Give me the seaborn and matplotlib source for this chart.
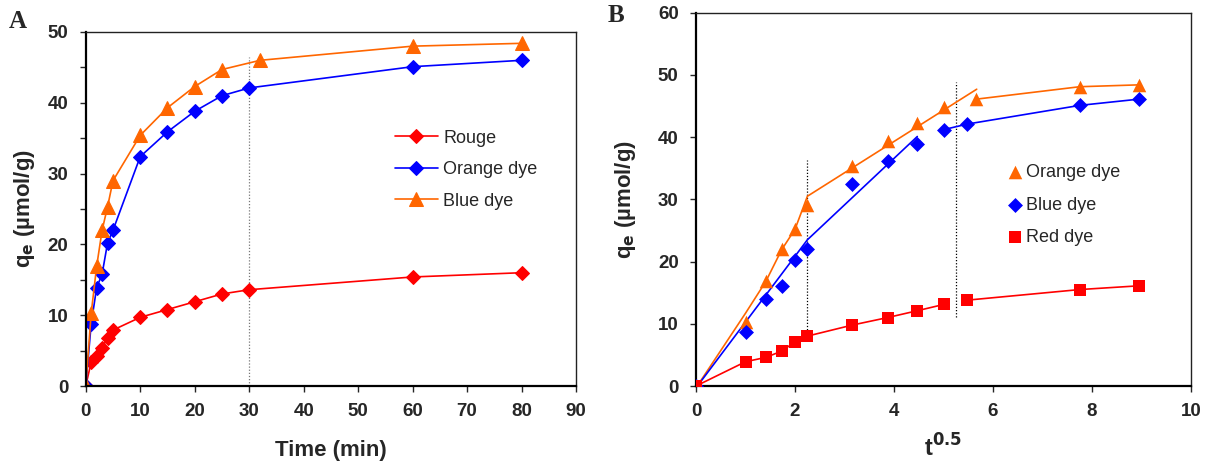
import matplotlib
matplotlib.use("Agg")
import matplotlib.pyplot as plt
import seaborn as sns
import numpy as np
import pandas as pd
from matplotlib.ticker import MultipleLocator

# ---------------- data ----------------
time_min = [0, 1, 2, 3, 4, 5, 10, 15, 20, 25, 30, 60, 80]
time_blue = [0, 1, 2, 3, 4, 5, 10, 15, 20, 25, 32, 60, 80]
rouge = [0, 3.4, 4.2, 5.4, 6.8, 7.9, 9.7, 10.8, 11.9, 13.0, 13.6, 15.4, 16.0]
orange_dye = [0, 8.8, 13.9, 15.8, 20.2, 22.0, 32.4, 35.9, 38.8, 41.0, 42.1, 45.1, 46.0]
blue_dye = [0, 10.3, 16.9, 22.0, 25.3, 29.0, 35.4, 39.3, 42.3, 44.7, 46.0, 48.0, 48.4]

sqrt_t = [0, 1.0, 1.41, 1.73, 2.0, 2.24, 3.16, 3.87, 4.47, 5.0, 5.48, 7.75, 8.94]
sqrt_t_orange = [0, 1.0, 1.41, 1.73, 2.0, 2.24, 3.16, 3.87, 4.47, 5.0, 5.66, 7.75, 8.94]
orange_b = [0, 10.3, 16.9, 22.0, 25.3, 29.1, 35.3, 39.3, 42.2, 44.8, 46.1, 48.1, 48.4]
blue_b = [0, 8.7, 14.0, 16.0, 20.2, 22.0, 32.4, 36.1, 38.9, 41.2, 42.1, 45.1, 46.1]
red_b = [0, 3.9, 4.6, 5.6, 7.1, 8.0, 9.8, 11.0, 12.1, 13.1, 13.8, 15.5, 16.1]

# fitted line segments drawn in panel B
orange_fit1_x = [0, 1.0, 1.41, 1.73, 2.0, 2.25, 5.67]
orange_fit1_y = [-0.3, 11.7, 16.8, 21.9, 25.2, 30.5, 47.7]
blue_fit1_x = [0, 2.25, 4.47]
blue_fit1_y = [-0.3, 23.5, 40.1]

# dotted guide lines
vline_a = (30, 0, 46.5)
vlines_b = [(2.25, 8.0, 36.3), (5.25, 11.1, 48.8)]

RED = "#FF0000"
BLUE = "#0000FF"
ORANGE = "#FF6600"

sns.set_style("white")
plt.rcParams["font.family"] = ["Liberation Sans", "DejaVu Sans"]

fig = plt.figure(figsize=(12.13, 4.63), dpi=100)
axA = fig.add_axes([0.0707, 0.1663, 0.4042, 0.7646])
axB = fig.add_axes([0.5738, 0.1663, 0.4081, 0.8063])

lw = 1.2

# ---------------- panel A ----------------
sns.lineplot(x=time_min, y=rouge, ax=axA, color=RED, marker="D", markersize=7.5,
             markeredgecolor=RED, linewidth=lw, label="Rouge", sort=False, estimator=None)
sns.lineplot(x=time_min, y=orange_dye, ax=axA, color=BLUE, marker="D", markersize=7.5,
             markeredgecolor=BLUE, linewidth=lw, label="Orange dye", sort=False, estimator=None)
sns.lineplot(x=time_blue, y=blue_dye, ax=axA, color=ORANGE, marker="^", markersize=9.5,
             markeredgecolor=ORANGE, linewidth=lw, label="Blue dye", sort=False, estimator=None)
axA.vlines(vline_a[0], vline_a[1], vline_a[2], colors="#777777", linestyles=(0, (1, 1.5)),
           linewidth=0.9, zorder=1)

axA.set_xlim(0, 90)
axA.set_ylim(0, 50)
axA.xaxis.set_major_locator(MultipleLocator(10))
axA.yaxis.set_major_locator(MultipleLocator(10))
axA.yaxis.set_minor_locator(MultipleLocator(5))
axA.set_xlabel("Time (min)", fontsize=16, fontweight="bold", labelpad=14)
axA.set_ylabel(r"q$_{\mathbf{e}}$ (µmol/g)", fontsize=16, fontweight="bold", labelpad=8)
axA.legend(loc="upper left", bbox_to_anchor=(0.597, 0.77), frameon=False, fontsize=13,
           handlelength=2.4, handletextpad=0.3, labelspacing=0.8)

# ---------------- panel B ----------------
sns.lineplot(x=orange_fit1_x, y=orange_fit1_y, ax=axB, color=ORANGE, linewidth=lw,
             sort=False, estimator=None, legend=False)
sns.lineplot(x=sqrt_t_orange[10:], y=orange_b[10:], ax=axB, color=ORANGE, linewidth=lw,
             sort=False, estimator=None, legend=False)
sns.lineplot(x=blue_fit1_x, y=blue_fit1_y, ax=axB, color=BLUE, linewidth=lw,
             sort=False, estimator=None, legend=False)
sns.lineplot(x=sqrt_t[9:], y=blue_b[9:], ax=axB, color=BLUE, linewidth=lw,
             sort=False, estimator=None, legend=False)
sns.lineplot(x=sqrt_t[:10], y=red_b[:10], ax=axB, color=RED, linewidth=lw,
             sort=False, estimator=None, legend=False)
sns.lineplot(x=sqrt_t[10:], y=red_b[10:], ax=axB, color=RED, linewidth=lw,
             sort=False, estimator=None, legend=False)

sns.scatterplot(x=sqrt_t_orange, y=orange_b, ax=axB, color=ORANGE, marker="^", s=95,
                edgecolor=ORANGE, linewidth=0, label="Orange dye", zorder=4)
sns.scatterplot(x=sqrt_t, y=blue_b, ax=axB, color=BLUE, marker="D", s=58,
                edgecolor=BLUE, linewidth=0, label="Blue dye", zorder=4)
sns.scatterplot(x=sqrt_t, y=red_b, ax=axB, color=RED, marker="s", s=68,
                edgecolor=RED, linewidth=0, label="Red dye", zorder=4)
for xv, y0, y1 in vlines_b:
    axB.vlines(xv, y0, y1, colors="black", linestyles=(0, (1, 1.5)), linewidth=0.9, zorder=1)

axB.set_xlim(0, 10)
axB.set_ylim(0, 60)
axB.xaxis.set_major_locator(MultipleLocator(2))
axB.yaxis.set_major_locator(MultipleLocator(10))
axB.set_xlabel(r"t$^{\mathbf{0.5}}$", fontsize=17, fontweight="bold", labelpad=10)
axB.set_ylabel(r"q$_{\mathbf{e}}$ (µmol/g)", fontsize=16, fontweight="bold", labelpad=14)
axB.legend(loc="upper left", bbox_to_anchor=(0.6, 0.638), frameon=False, fontsize=13,
           handlelength=0.6, handletextpad=0.3, labelspacing=0.86)

for ax in (axA, axB):
    ax.tick_params(axis="both", which="both", direction="out", length=4.5, width=1.0,
                   pad=8, labelsize=13.5, bottom=True, left=True, top=False, right=False)
    for lab in ax.get_xticklabels() + ax.get_yticklabels():
        lab.set_fontweight("bold")
    for side in ("left", "bottom"):
        ax.spines[side].set_linewidth(1.6)
        ax.spines[side].set_color("black")
    for side in ("top", "right"):
        ax.spines[side].set_linewidth(1.0)
        ax.spines[side].set_color("#222222")
    ax.grid(False)

fig.text(18 / 1213, 1 - 22 / 463, "A", fontsize=18, fontweight="bold",
         family="Liberation Serif", ha="center", va="center")
fig.text(616 / 1213, 1 - 16 / 463, "B", fontsize=18, fontweight="bold",
         family="Liberation Serif", ha="center", va="center")

fig.savefig("out.png", dpi=100)
